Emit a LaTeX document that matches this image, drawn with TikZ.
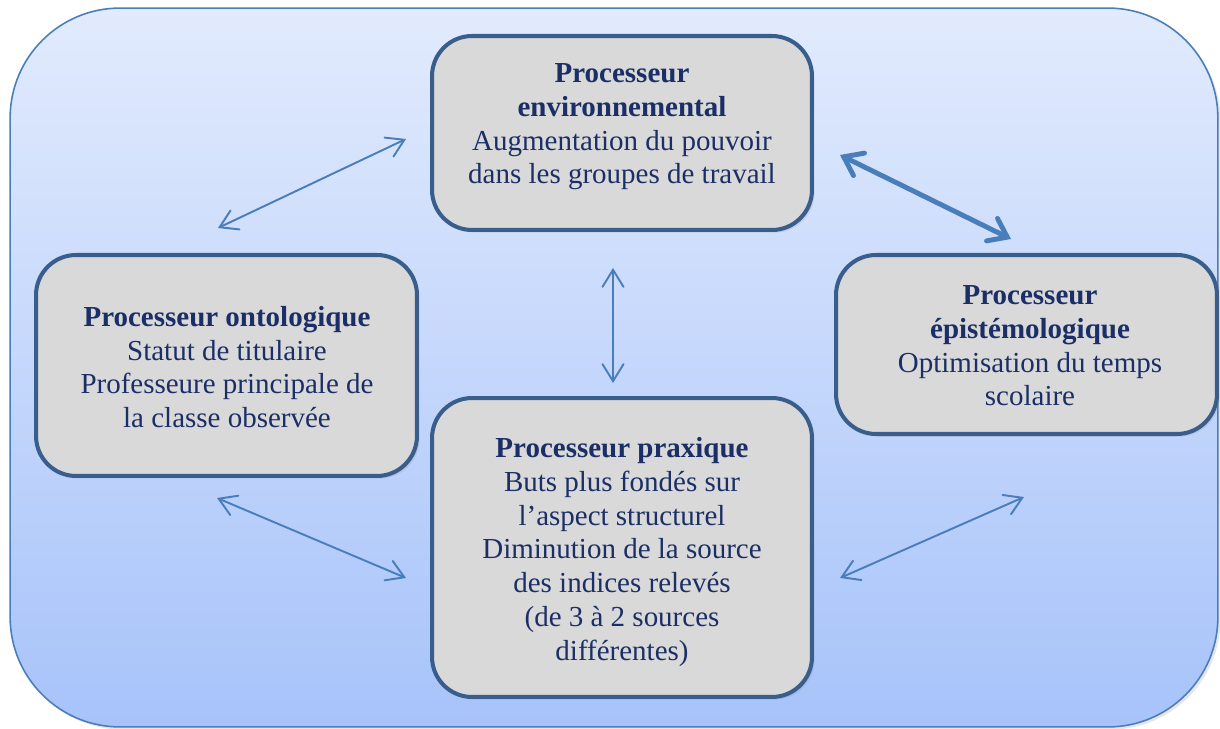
\documentclass[tikz,border=0pt]{standalone}
\usepackage{fontspec}
\setmainfont{Liberation Serif}
\usetikzlibrary{arrows.meta,shadows}
\definecolor{bgtop}{HTML}{E2EBFD}
\definecolor{bgbot}{HTML}{A7C3FA}
\definecolor{frame}{HTML}{4A7EBB}
\definecolor{boxfill}{HTML}{D9D9D9}
\definecolor{boxline}{HTML}{3A5E8C}
\definecolor{txt}{HTML}{1B2F66}
\definecolor{arr}{HTML}{4A7EBB}
\tikzset{
  procbox/.style={draw=boxline, line width=2.3pt, fill=boxfill, rounded corners=0.8cm, inner sep=0pt,
    drop shadow={opacity=0.18, shadow xshift=1.5pt, shadow yshift=-1.5pt}},
  proctext/.style={text=txt, align=center, font=\fontsize{16.5}{19.2}\selectfont, inner sep=0pt},
  thinarrow/.style={draw=arr, line width=1.1pt, line cap=round, {Straight Barb[length=0.34cm, width=0.42cm, line cap=round]}-{Straight Barb[length=0.34cm, width=0.42cm, line cap=round]}},
  thickarrow/.style={draw=arr, line width=2.8pt, line cap=round, {Straight Barb[length=0.34cm, width=0.5cm, line cap=round]}-{Straight Barb[length=0.34cm, width=0.5cm, line cap=round]}}
}
\begin{document}
\begin{tikzpicture}[x=0.02cm, y=-0.02cm]
\useasboundingbox (0,0) rectangle (1220,729);
% background panel
\node[draw=frame, line width=0.9pt, top color=bgtop, bottom color=bgbot, rounded corners=2.2cm,
  minimum width=24.16cm, minimum height=14.38cm, inner sep=0pt,
  drop shadow={opacity=0.2, shadow xshift=1.5pt, shadow yshift=-1.5pt}] (panel) at (614,367.5) {};
% boxes
\node[procbox, minimum width=7.6cm, minimum height=3.88cm] (env) at (622,133) {};
\node[procbox, minimum width=7.62cm, minimum height=4.42cm] (onto) at (226.5,365.5) {};
\node[procbox, minimum width=7.62cm, minimum height=3.58cm] (epis) at (1026.5,344.5) {};
\node[procbox, minimum width=7.6cm, minimum height=5.98cm] (prax) at (622,547.5) {};
% texts
\node[proctext] (envt) at (622,127) {\textbf{Processeur}\\\textbf{environnemental}\\Augmentation du pouvoir\\dans les groupes de travail};
\node[proctext] (ontot) at (227,367) {\textbf{Processeur ontologique}\\Statut de titulaire\\Professeure principale de\\la classe observée};
\node[proctext] (epist) at (1030,346) {\textbf{Processeur}\\\textbf{épistémologique}\\Optimisation du temps\\scolaire};
\node[proctext] (praxt) at (622,552) {\textbf{Processeur praxique}\\Buts plus fondés sur\\l’aspect structurel\\Diminution de la source\\des indices relevés\\(de 3 à 2 sources\\différentes)};
% arrow end points
\coordinate (a1s) at (218,228); \coordinate (a1e) at (406,139);
\coordinate (a2s) at (840,155); \coordinate (a2e) at (1011,239);
\coordinate (a3s) at (613,268); \coordinate (a3e) at (613,383);
\coordinate (a4s) at (217,498); \coordinate (a4e) at (406,578);
\coordinate (a5s) at (840,578); \coordinate (a5e) at (1024,497);
\draw[thinarrow] (a1s) -- (a1e);
\draw[thickarrow] (a2s) -- (a2e);
\draw[thinarrow] (a3s) -- (a3e);
\draw[thinarrow] (a4s) -- (a4e);
\draw[thinarrow] (a5s) -- (a5e);
\end{tikzpicture}
\end{document}
